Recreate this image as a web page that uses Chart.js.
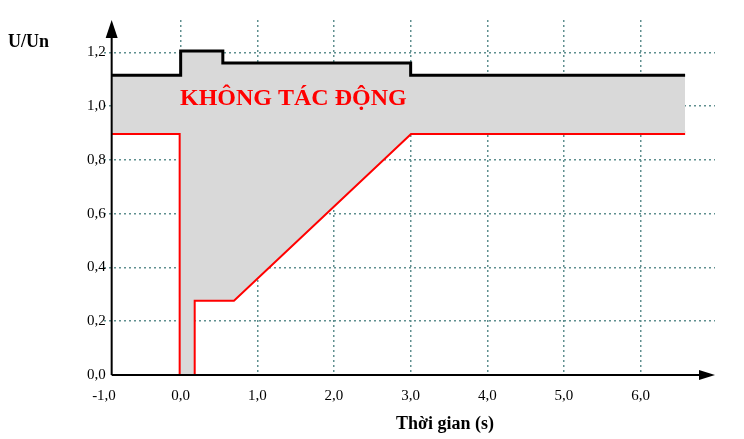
<!DOCTYPE html>
<html lang="vi">
<head>
<meta charset="UTF-8">
<title>U/Un</title>
<script src="https://cdn.jsdelivr.net/npm/chart.js"></script>
<style>
  body { margin: 0; background: #fff; }
  #wrap { width: 744px; height: 439px; }
</style>
</head>
<body>
<div id="wrap"><canvas id="chart"></canvas></div>
<script>
// gioi han tren (duong den)
const upperX = [-0.9, 0, 0, 0.55, 0.55, 3.0, 3.0, 6.58];
const upperY = [1.115, 1.115, 1.205, 1.205, 1.16, 1.16, 1.115, 1.115];
// gioi han duoi (duong do)
const lowerX = [-0.9, 0, 0, 0.17, 0.17, 0.69, 3.0, 6.58];
const lowerY = [0.9, 0.9, 0, 0, 0.28, 0.28, 0.9, 0.9];
const xTicks = [-1, 0, 1, 2, 3, 4, 5, 6];
const yTicks = [0, 0.2, 0.4, 0.6, 0.8, 1.0, 1.2];

const toPts = (xs, ys) => xs.map((x, i) => ({ x: x, y: ys[i] }));
const fmt = v => v.toFixed(1).replace('.', ',');
const FONT = '"Liberation Serif", serif';

const extras = {
  id: 'extras',
  afterDraw(chart) {
    const c = chart.ctx, xs = chart.scales.x, ys = chart.scales.y;
    const x0 = xs.getPixelForValue(-0.9), y0 = ys.getPixelForValue(0);
    const xEnd = xs.right, yTop = ys.top;
    c.save();
    c.strokeStyle = '#000'; c.fillStyle = '#000'; c.lineWidth = 2;
    c.beginPath(); c.moveTo(x0, y0); c.lineTo(xEnd - 10, y0); c.moveTo(x0, y0); c.lineTo(x0, yTop + 12); c.stroke();
    c.beginPath(); c.moveTo(xEnd, y0); c.lineTo(xEnd - 16, y0 - 5); c.lineTo(xEnd - 16, y0 + 5); c.fill();
    c.beginPath(); c.moveTo(x0, yTop); c.lineTo(x0 - 6, yTop + 18); c.lineTo(x0 + 6, yTop + 18); c.fill();
    // nhan truc y
    c.font = '15px ' + FONT; c.textAlign = 'right'; c.textBaseline = 'middle';
    yTicks.forEach(v => c.fillText(fmt(v), x0 - 6, ys.getPixelForValue(v)));
    c.font = 'bold 18px ' + FONT;
    c.textAlign = 'left';
    c.fillText('U/Un', 8, 42);
    c.textAlign = 'center';
    c.font = 'bold 18px ' + FONT;
    c.fillText('Thời gian (s)', 445, 424);
    c.fillStyle = '#ff0000';
    c.font = 'bold 24px ' + FONT;
    c.textAlign = 'left';
    c.fillText('KHÔNG TÁC ĐỘNG', 180, 99);
    c.restore();
  }
};

new Chart(document.getElementById('chart'), {
  type: 'scatter',
  data: {
    datasets: [
      { data: toPts(upperX, upperY), showLine: true, borderColor: '#000', borderWidth: 3,
        pointRadius: 0, fill: '+1', backgroundColor: '#d9d9d9', tension: 0 },
      { data: toPts(lowerX, lowerY), showLine: true, borderColor: '#ff0000', borderWidth: 4,
        pointRadius: 0, fill: false, tension: 0 }
    ]
  },
  options: {
    responsive: true, maintainAspectRatio: false, animation: false,
    layout: { padding: { left: 104, right: 29, top: 20, bottom: 0 } },
    plugins: { legend: { display: false }, tooltip: { enabled: false } },
    scales: {
      x: {
        type: 'linear', min: -1, max: 6.97,
        afterFit: s => { s.height = 64; },
        afterBuildTicks: s => { s.ticks = xTicks.map(v => ({ value: v })); },
        border: { display: false, dash: [2, 3] },
        grid: { color: ctx => ctx.tick && ctx.tick.value >= 0 ? '#5f8f8f' : 'transparent',
                lineWidth: 1.5, drawTicks: false },
        ticks: { callback: v => fmt(v), color: '#000', padding: 12,
                 font: { family: FONT, size: 15 } }
      },
      y: {
        type: 'linear', min: 0, max: 1.32, position: { x: -0.9 },
        afterBuildTicks: s => { s.ticks = yTicks.map(v => ({ value: v })); },
        border: { display: false, dash: [2, 3] },
        grid: { color: ctx => ctx.tick && ctx.tick.value > 0 ? '#5f8f8f' : 'transparent',
                lineWidth: 1.5, drawTicks: false },
        ticks: { display: false }
      }
    }
  },
  plugins: [extras]
});
</script>
</body>
</html>
